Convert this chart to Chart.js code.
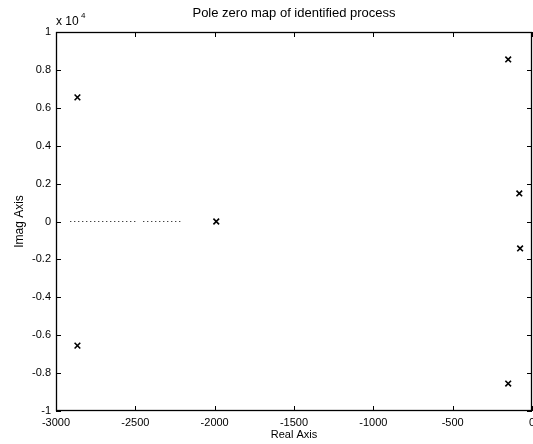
<!DOCTYPE html>
<html>
<head>
<meta charset="utf-8">
<script src="https://cdn.jsdelivr.net/npm/chart.js@4"></script>
<style>
  html, body { margin: 0; padding: 0; background: #fff; }
  #wrap { width: 533px; height: 444px; }
</style>
</head>
<body>
<div id="wrap"><canvas id="pzChart"></canvas></div>
<script>
// poles (real, imag)
var poleReal = [-2865, -2865, -1990, -150, -80, -75, -150];
var poleImag = [6550, -6550, 0, 8550, 1480, -1420, -8550];

// dotted segment on the real axis (null = gap)
var dotReal = [-2910, -2500, -2475, -2450, -2200];
var dotImag = [0, 0, null, 0, 0];

var xTicks = [-3000, -2500, -2000, -1500, -1000, -500, 0];
var yTicks = [-10000, -8000, -6000, -4000, -2000, 0, 2000, 4000, 6000, 8000, 10000];

var chartTitle = 'Pole zero map of identified process';
var FONT = '"Liberation Sans", Arial, Helvetica, sans-serif';

var poles = poleReal.map(function (r, i) { return { x: r, y: poleImag[i] }; });
var dots = dotReal.map(function (r, i) { return { x: r, y: dotImag[i] }; });

// box, inward ticks on all four sides, title and exponent label
var matlabFrame = {
    id: 'matlabFrame',
    afterDraw: function (chart) {
        var ctx = chart.ctx, a = chart.chartArea;
        var xs = chart.scales.x, ys = chart.scales.y;
        var len = 5;
        ctx.save();
        ctx.strokeStyle = '#000';
        ctx.lineWidth = 1.3;
        ctx.strokeRect(a.left + 0.5, a.top + 0.5, a.right - a.left - 1, a.bottom - a.top - 1);
        ctx.lineWidth = 1;
        ctx.beginPath();
        xTicks.forEach(function (v) {
            var px = Math.round(xs.getPixelForValue(v)) + 0.5;
            ctx.moveTo(px, a.bottom); ctx.lineTo(px, a.bottom - len);
            ctx.moveTo(px, a.top); ctx.lineTo(px, a.top + len);
        });
        yTicks.forEach(function (v) {
            var py = Math.round(ys.getPixelForValue(v)) + 0.5;
            ctx.moveTo(a.left, py); ctx.lineTo(a.left + len, py);
            ctx.moveTo(a.right, py); ctx.lineTo(a.right - len, py);
        });
        ctx.stroke();

        ctx.fillStyle = '#000';
        ctx.font = '13px ' + FONT;
        ctx.textAlign = 'center';
        ctx.textBaseline = 'middle';
        ctx.fillText(chartTitle, (a.left + a.right) / 2, 13);

        ctx.textAlign = 'left';
        ctx.font = '12px ' + FONT;
        ctx.fillText('x 10', a.left, 22);
        ctx.font = '8px ' + FONT;
        ctx.fillText('4', a.left + 25, 16);
        ctx.restore();
    }
};

new Chart(document.getElementById('pzChart').getContext('2d'), {
    type: 'scatter',
    data: {
        datasets: [{
            label: 'poles',
            data: poles,
            pointStyle: 'crossRot',
            pointRadius: 4,
            pointHoverRadius: 4,
            borderColor: '#000',
            borderWidth: 1.6,
            showLine: false
        }, {
            label: 'axis',
            type: 'line',
            data: dots,
            borderColor: '#000',
            borderWidth: 1,
            borderDash: [1, 3],
            pointRadius: 0,
            spanGaps: false,
            fill: false
        }]
    },
    options: {
        responsive: true,
        maintainAspectRatio: false,
        animation: false,
        plugins: {
            legend: { display: false },
            tooltip: { enabled: false }
        },
        layout: {
            autoPadding: false,
            padding: { left: 0, right: 1, top: 32, bottom: 0 }
        },
        scales: {
            x: {
                type: 'linear',
                min: -3000,
                max: 0,
                afterBuildTicks: function (scale) {
                    scale.ticks = xTicks.map(function (v) { return { value: v }; });
                },
                afterFit: function (scale) {
                    scale.height = 33;
                    scale.paddingLeft = 0;
                    scale.paddingRight = 0;
                },
                grid: { display: false, drawTicks: false },
                border: { display: false },
                ticks: {
                    color: '#000',
                    padding: 5,
                    maxRotation: 0,
                    autoSkip: false,
                    font: { family: FONT, size: 11 },
                    callback: function (v) { return String(v); }
                },
                title: {
                    display: true,
                    text: 'Real Axis',
                    color: '#000',
                    padding: { top: 0, bottom: 2 },
                    font: { family: FONT, size: 11 }
                }
            },
            y: {
                type: 'linear',
                min: -10000,
                max: 10000,
                afterBuildTicks: function (scale) {
                    scale.ticks = yTicks.map(function (v) { return { value: v }; });
                },
                afterFit: function (scale) {
                    scale.width = 56;
                    scale.paddingTop = 0;
                    scale.paddingBottom = 0;
                },
                grid: { display: false, drawTicks: false },
                border: { display: false },
                ticks: {
                    color: '#000',
                    padding: 5,
                    autoSkip: false,
                    font: { family: FONT, size: 11 },
                    callback: function (v) { return String(Math.round(v / 1000) / 10); }
                },
                title: {
                    display: true,
                    text: 'Imag Axis',
                    color: '#000',
                    padding: { top: 12, bottom: 0 },
                    font: { family: FONT, size: 12 }
                }
            }
        }
    },
    plugins: [matlabFrame]
});
</script>
</body>
</html>
